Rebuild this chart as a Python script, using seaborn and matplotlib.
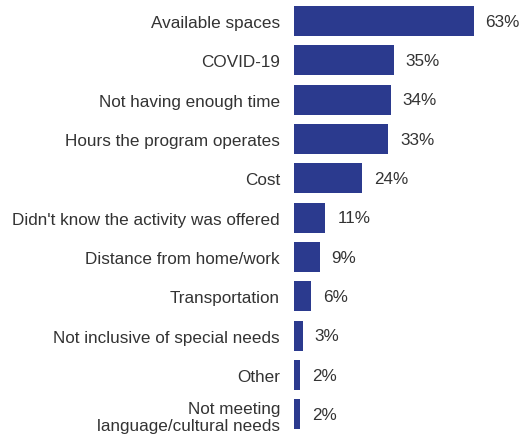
import seaborn as sns
import matplotlib.pyplot as plt
import pandas as pd

reasons = [
    "Available spaces",
    "COVID-19",
    "Not having enough time",
    "Hours the program operates",
    "Cost",
    "Didn't know the activity was offered",
    "Distance from home/work",
    "Transportation",
    "Not inclusive of special needs",
    "Other",
    "Not meeting\nlanguage/cultural needs",
]
percent = [63, 35, 34, 33, 24, 11, 9, 6, 3, 2, 2]

df = pd.DataFrame({"reason": reasons, "percent": percent})

sns.set_style('white')
plt.rcParams['font.family'] = ['Liberation Sans', 'DejaVu Sans']

fig = plt.figure(figsize=(5.24, 4.35), dpi=100)
ax = fig.add_axes([294 / 524, 0.0, 230 / 524, 0.9946])

sns.barplot(data=df, x='percent', y='reason', color='#2B3A8E', width=0.76,
            saturation=1, linewidth=0, ax=ax)

ax.set_xlim(0, 80.7)
ax.set_ylim(10.5, -0.5)
ax.set_xlabel('')
ax.set_ylabel('')
ax.set_xticks([])
ax.tick_params(axis='y', length=0, pad=10, labelsize=12.3, labelcolor='#333333')
sns.despine(ax=ax, left=True, bottom=True)

for i, v in enumerate(percent):
    ax.text(v + 4.2, i, f"{v}%", va='center', ha='left', fontsize=12.3,
            color='#333333')

fig.savefig('out.png', dpi=100)
